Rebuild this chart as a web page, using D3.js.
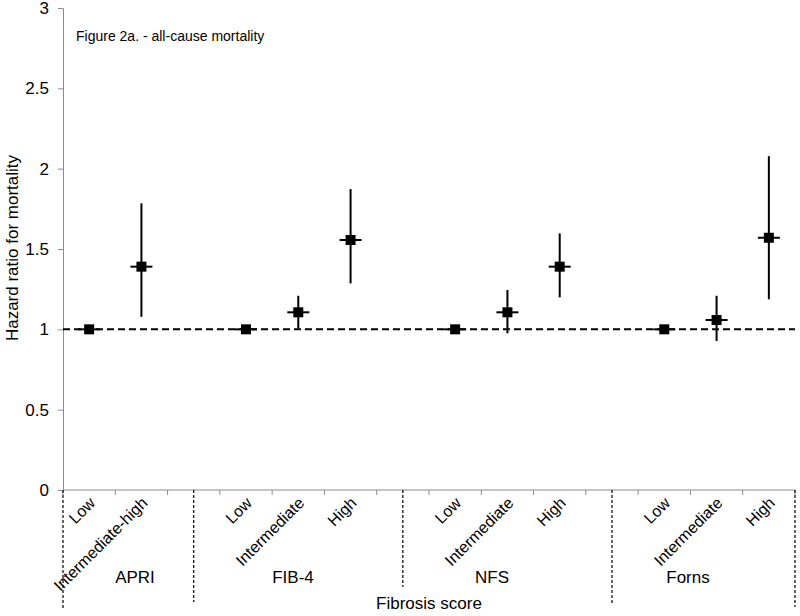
<!DOCTYPE html>
<html>
<head>
<script src="https://d3js.org/d3.v7.min.js"></script>
<style>
  body { margin: 0; background: #fff; }
  text { font-family: Arial, "Liberation Sans", sans-serif; fill: #000; }
  .axis path, .axis line { stroke: #8c8c8c; }
</style>
</head>
<body>
<script>
// categories (blank slots separate the four scores)
var categories = ["APRI|Low", "APRI|Intermediate-high", "gap1",
                  "FIB-4|Low", "FIB-4|Intermediate", "FIB-4|High", "gap2",
                  "NFS|Low", "NFS|Intermediate", "NFS|High", "gap3",
                  "Forns|Low", "Forns|Intermediate", "Forns|High"];
var groups = ["APRI", "FIB-4", "NFS", "Forns"];
var hazard = [1.0, 1.39, null, 1.0, 1.106, 1.556, null, 1.0, 1.106, 1.39, null, 1.0, 1.058, 1.57];
var ciLow  = [null, 1.078, null, null, 1.006, 1.286, null, null, 0.975, 1.199, null, null, 0.927, 1.187];
var ciHigh = [null, 1.784, null, null, 1.209, 1.873, null, null, 1.245, 1.597, null, null, 1.209, 2.078];
var yTicks = [0, 0.5, 1, 1.5, 2, 2.5, 3];

var W = 800, H = 616;
var plotLeft = 63, plotRight = 795, plotTop = 8, plotBottom = 490;

var svg = d3.select("body").append("svg").attr("width", W).attr("height", H);

var x = d3.scaleBand().domain(categories).range([plotLeft, plotRight]);
var y = d3.scaleLinear().domain([0, 3]).range([plotBottom, plotTop]);

// y axis
var yAxis = d3.axisLeft(y).tickValues(yTicks).tickSize(5).tickPadding(9)
  .tickFormat(function(d) { return String(d); });
var gy = svg.append("g").attr("class", "axis").attr("transform", "translate(" + plotLeft + ",0)").call(yAxis);
gy.selectAll("text").style("font-size", "17px").style("font-family", "Arial, 'Liberation Sans', sans-serif");

// x axis line + ticks at band edges
var edges = categories.map(function(c) { return x(c); }).concat([plotRight]);
var gx = svg.append("g").attr("class", "axis");
gx.append("line").attr("x1", plotLeft).attr("x2", plotRight).attr("y1", plotBottom).attr("y2", plotBottom);
gx.selectAll(".tk").data(edges).enter().append("line")
  .attr("x1", function(d) { return d; }).attr("x2", function(d) { return d; })
  .attr("y1", plotBottom).attr("y2", plotBottom + 5);

// group separators (dotted)
var seps = [plotLeft, x("gap1") + x.bandwidth() / 2, x("gap2") + x.bandwidth() / 2, x("gap3") + x.bandwidth() / 2, plotRight];
var sepEnds = [610, 602, 587, 603, 607];
svg.selectAll(".sep").data(seps).enter().append("line")
  .attr("x1", function(d) { return d; }).attr("x2", function(d) { return d; })
  .attr("y1", plotBottom).attr("y2", function(d, i) { return sepEnds[i]; })
  .attr("stroke", "#000").attr("stroke-width", 1.2).attr("stroke-dasharray", "3,2");

// category labels
var cats = categories.filter(function(c) { return c.indexOf("|") > 0; });
svg.selectAll(".cat").data(cats).enter().append("text")
  .attr("transform", function(c) {
    return "translate(" + (x(c) + x.bandwidth() / 2 + 7) + "," + (plotBottom + 14) + ") rotate(-45)";
  })
  .attr("text-anchor", "end")
  .style("font-size", "16px")
  .text(function(c) { return c.split("|")[1]; });

// group labels
var groupMid = [135, 293, 492, 688];
svg.selectAll(".grp").data(groups).enter().append("text")
  .attr("x", function(g, i) { return groupMid[i]; })
  .attr("y", 583)
  .attr("text-anchor", "middle")
  .style("font-size", "17px")
  .text(function(g) { return g; });

svg.append("text").attr("x", 429).attr("y", 609).attr("text-anchor", "middle")
  .style("font-size", "17px").text("Fibrosis score");

svg.append("text").attr("transform", "translate(18," + 248 + ") rotate(-90)")
  .attr("text-anchor", "middle").style("font-size", "17px").text("Hazard ratio for mortality");

svg.append("text").attr("x", 76).attr("y", 41).style("font-size", "14px")
  .text("Figure 2a. - all-cause mortality");

// reference line at 1
svg.append("line").attr("x1", plotLeft).attr("x2", plotRight).attr("y1", y(1)).attr("y2", y(1))
  .attr("stroke", "#000").attr("stroke-width", 2).attr("stroke-dasharray", "7,4");

// points with CI
var pts = categories.map(function(c, i) {
  return { c: c, v: hazard[i], lo: ciLow[i], hi: ciHigh[i] };
}).filter(function(d) { return d.v !== null; });

var cx = function(d) { return x(d.c) + x.bandwidth() / 2; };

svg.selectAll(".ci").data(pts.filter(function(d) { return d.lo !== null; })).enter().append("line")
  .attr("x1", cx).attr("x2", cx)
  .attr("y1", function(d) { return y(d.lo); }).attr("y2", function(d) { return y(d.hi); })
  .attr("stroke", "#000").attr("stroke-width", 2);

svg.selectAll(".hb").data(pts).enter().append("line")
  .attr("x1", function(d) { return cx(d) - 11; }).attr("x2", function(d) { return cx(d) + 11; })
  .attr("y1", function(d) { return y(d.v); }).attr("y2", function(d) { return y(d.v); })
  .attr("stroke", "#000").attr("stroke-width", 2);

svg.selectAll(".pt").data(pts).enter().append("rect")
  .attr("x", function(d) { return cx(d) - 5; }).attr("y", function(d) { return y(d.v) - 5; })
  .attr("width", 10).attr("height", 10).attr("fill", "#000");
</script>
</body>
</html>
